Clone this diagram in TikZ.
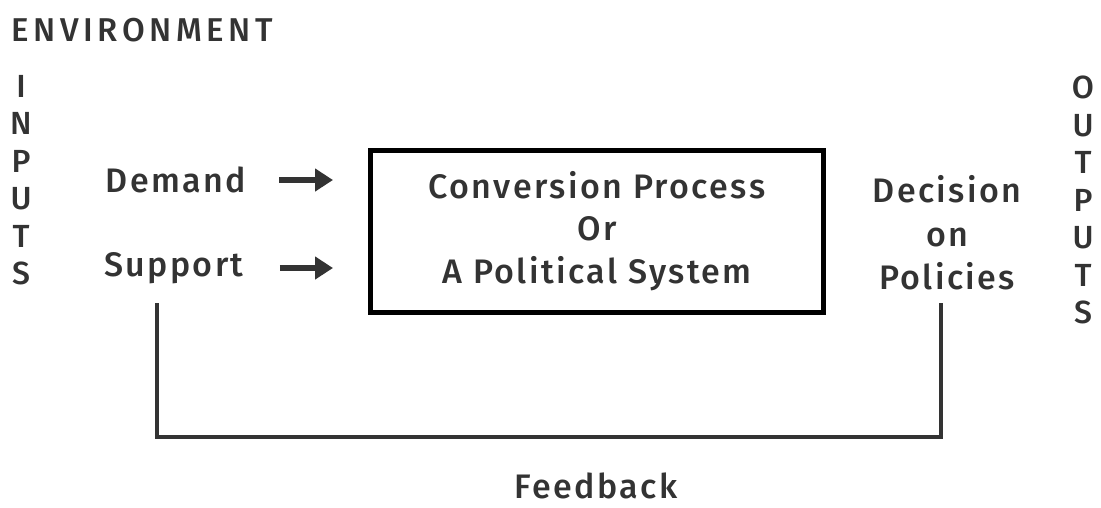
\documentclass[tikz,border=0pt]{standalone}
\usepackage{fontspec}
\setmainfont{Fira Sans}[UprightFont=* Medium, LetterSpace=7]
\usetikzlibrary{positioning, arrows.meta}
\definecolor{ink}{HTML}{333333}
\tikzstyle{txt} = [text=ink, inner sep=0pt, font=\fontsize{34}{43.5}\selectfont]
\tikzstyle{letters} = [txt, align=center, font=\fontsize{32}{37.5}\selectfont]
\tikzstyle{system} = [draw=black, line width=5pt, minimum width=453pt, minimum height=162pt, align=center, text=ink, font=\fontsize{34}{42.5}\selectfont]
\tikzstyle{arrow} = [line width=6pt, draw=ink, -{Triangle[length=18pt, width=22pt]}]
\tikzstyle{link} = [line width=4pt, draw=ink]

\begin{document}
\begin{tikzpicture}[x=1pt, y=-1pt]
  \useasboundingbox (0,0) rectangle (1101,507);
  \node (env) [txt, anchor=west, font=\fontsize{33}{40}\selectfont\addfontfeature{LetterSpace=14}] at (11,30) {ENVIRONMENT};
  \node (inputs) [letters] at (21,180) {I\\N\\P\\U\\T\\S};
  \node (demand) [txt] at (176,180) {Demand};
  \node (support) [txt] at (174,268) {Support};
  \node (system) [system] at (597,231) {Conversion Process\\Or\\A Political System};
  \node (decision) [txt, align=center] at (947,233) {Decision\\on\\Policies};
  \node (outputs) [letters] at (1083,200) {O\\U\\T\\P\\U\\T\\S};
  \node (feedback) [txt] at (596,486) {Feedback};
  \coordinate (fbl) at (157,303);
  \coordinate (fbr) at (941,303);
  \draw [arrow, shorten <=33pt, shorten >=35pt] (demand.east) -- (demand.east -| system.west);
  \draw [arrow, shorten <=36pt, shorten >=35pt] (support.east) -- (support.east -| system.west);
  \draw [link] (fbl) -- ++(0,134) -| (fbr);
\end{tikzpicture}
\end{document}
